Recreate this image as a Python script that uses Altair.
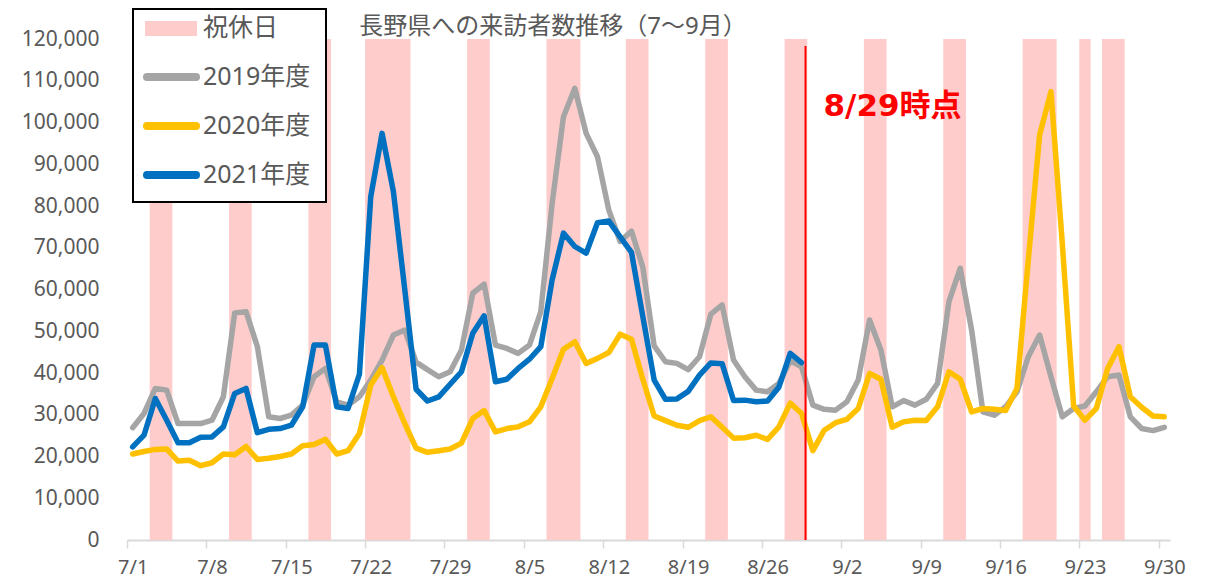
import datetime as dt
import altair as alt
import pandas as pd

# ---------------- data ----------------
START = dt.date(2021, 7, 1)
N_DAYS = 92  # 7/1 .. 9/30

series_names = ["2019年度", "2020年度", "2021年度"]
series_colors = ["#A5A5A5", "#FFC000", "#0070C0"]

v2019 = [26900, 30300, 36300, 35900, 27900, 27900, 27900, 28700, 34300, 54400,
         54700, 46300, 29500, 29100, 29900, 32300, 39100, 41100, 33100, 32300,
         34300, 38300, 43100, 49100, 50300, 42600, 40800, 39100, 40300, 45500,
         59100, 61300, 46700, 45900, 44700, 46700, 54700, 80600, 101400, 108200,
         97400, 91800, 79000, 71500, 74000, 65300, 46500, 42700, 42300, 40800,
         43900, 54100, 56300, 43100, 39100, 35900, 35500, 37500, 42900, 41500,
         32300, 31300, 31100, 33100, 38300, 52700, 45500, 31900, 33400, 32300,
         33700, 37500, 57100, 65100, 50300, 30700, 29900, 31900, 35500, 43900,
         49100, 39100, 29500, 31500, 32100, 35500, 39100, 39500, 29500, 26700,
         26200, 27000]

v2020 = [20600, 21200, 21700, 21800, 18900, 19100, 17800, 18500, 20600, 20400,
         22400, 19300, 19600, 20000, 20600, 22600, 22900, 24100, 20600, 21400,
         25500, 37100, 41300, 34300, 27900, 22000, 21000, 21400, 21800, 23200,
         29100, 31000, 25900, 26700, 27100, 28300, 31900, 38700, 45700, 47500,
         42300, 43500, 44900, 49300, 48100, 38500, 29700, 28600, 27500, 27000,
         28600, 29500, 27000, 24400, 24500, 25100, 24100, 27100, 32800, 30300,
         21400, 26300, 28100, 28900, 31500, 39900, 38500, 27000, 28300, 28700,
         28600, 31900, 40300, 38500, 30700, 31500, 31300, 31000, 36300, 67000,
         97000, 107400, 71000, 32100, 28700, 31500, 41100, 46300, 34300, 31800,
         29700, 29500]

v2021 = [22300, 25100, 33900, 28700, 23300, 23300, 24600, 24700, 27100, 35100,
         36300, 25700, 26500, 26700, 27500, 31900, 46700, 46700, 31900, 31500,
         39700, 82200, 97400, 83400, 60000, 36100, 33300, 34300, 37300, 40300,
         49500, 53700, 37900, 38500, 41100, 43300, 46300, 62300, 73500, 70300,
         68700, 76000, 76400, 72600, 68900, 53500, 38300, 33700, 33800, 35600,
         39500, 42400, 42200, 33400, 33500, 33100, 33300, 36600, 44700, 42500]

holidays = ["7/3", "7/4", "7/10", "7/11", "7/17", "7/18", "7/22", "7/23", "7/24",
            "7/25", "7/31", "8/1", "8/7", "8/8", "8/9", "8/14", "8/15", "8/21",
            "8/22", "8/28", "8/29", "9/4", "9/5", "9/11", "9/12", "9/18", "9/19",
            "9/20", "9/23", "9/25", "9/26"]

x_tick_labels = ["7/1", "7/8", "7/15", "7/22", "7/29", "8/5", "8/12", "8/19",
                 "8/26", "9/2", "9/9", "9/16", "9/23", "9/30"]
y_ticks = [0, 10000, 20000, 30000, 40000, 50000, 60000, 70000, 80000, 90000,
           100000, 110000, 120000]

cutoff = "8/29"
cutoff_text = "8/29時点"
legend_holiday = "祝休日"
title_text = "長野県への来訪者数推移（7～9月）"


def idx(md):
    m, d = map(int, md.split("/"))
    return (dt.date(START.year, m, d) - START).days


# ---------------- tables ----------------
rows = []
for name, vals in zip(series_names, [v2019, v2020, v2021]):
    for i, v in enumerate(vals):
        rows.append({"series": name, "pos": i + 0.5, "value": v})
df = pd.DataFrame(rows)

runs = []
for h in sorted(idx(h) for h in holidays):
    if runs and runs[-1][1] == h:
        runs[-1][1] = h + 1
    else:
        runs.append([h, h + 1])
band_df = pd.DataFrame(runs, columns=["start", "end"])
Y_MAX = y_ticks[-1]
band_df["lo"] = 0
band_df["hi"] = Y_MAX

red_df = pd.DataFrame({"pos": [idx(cutoff) + 0.85], "lo": [0], "hi": [118300],
                       "ty": [103800]})
one = pd.DataFrame({"a": [0]})

# ---------------- styling ----------------
W, H = 1043, 501
FONT = "Noto Sans, Noto Sans CJK JP, sans-serif"
TXT = "#595959"
PINK = "#FFCCCC"

x_scale = alt.Scale(domain=[0, N_DAYS], nice=False, zero=False)
y_scale = alt.Scale(domain=[0, Y_MAX], nice=False)

label_expr = " : ".join(
    f"datum.value == {idx(t)} ? '{t}'" for t in x_tick_labels) + " : ''"

x_axis = alt.Axis(values=[idx(t) for t in x_tick_labels], labelExpr=label_expr,
                  title=None, grid=False, tickSize=8, tickColor="#D9D9D9",
                  tickWidth=1.5, domainColor="#D9D9D9", domainWidth=2,
                  labelOffset=W / N_DAYS / 2, labelPadding=9, labelFlush=False,
                  labelOverlap=False, labelFont=FONT, labelFontSize=20,
                  labelColor=TXT, labelAngle=0)
y_axis = alt.Axis(values=y_ticks, format=",d", title=None, grid=False,
                  domain=False, ticks=False, tickSize=0, labelPadding=28,
                  labelFont=FONT, labelFontSize=21, labelColor=TXT)


def X(field):
    return alt.X(field, scale=x_scale, axis=x_axis, title=None)


def Y(field):
    return alt.Y(field, scale=y_scale, axis=y_axis, title=None)


# ---------------- layers ----------------
bands = alt.Chart(band_df).mark_rect(color=PINK).encode(
    x=X("start:Q"), x2="end:Q", y=Y("lo:Q"), y2="hi:Q")

lines = []
for name, color in zip(series_names, series_colors):
    lines.append(
        alt.Chart(df).transform_filter(alt.datum.series == name)
        .mark_line(color=color, strokeWidth=5.5, strokeJoin="round",
                   strokeCap="round")
        .encode(x=X("pos:Q"), y=Y("value:Q"))
    )

red_rule = alt.Chart(red_df).mark_rule(color="#FF0000", strokeWidth=2).encode(
    x=X("pos:Q"), y=Y("lo:Q"), y2="hi:Q")
red_text = alt.Chart(red_df).mark_text(
    align="left", baseline="middle", dx=18, fontSize=31, fontWeight="bold",
    font="DejaVu Sans, Noto Sans CJK JP, sans-serif", color="#FF0000",
).encode(x=X("pos:Q"), y=Y("ty:Q"), text=alt.value(cutoff_text))

title = alt.Chart(one).mark_text(
    align="center", baseline="middle", fontSize=24, font=FONT, color=TXT
).encode(x=alt.value(426), y=alt.value(-12), text=alt.value(title_text))

# legend
box = alt.Chart(one).mark_rect(fill="white", stroke="black", strokeWidth=2).encode(
    x=alt.value(6), x2=alt.value(199), y=alt.value(-30), y2=alt.value(163))
legend_layers = [box]
ROW0, STEP = -11, 49
legend_layers.append(
    alt.Chart(one).mark_rect(color=PINK).encode(
        x=alt.value(18), x2=alt.value(70), y=alt.value(ROW0 - 7),
        y2=alt.value(ROW0 + 8)))
legend_layers.append(
    alt.Chart(one).mark_text(align="left", baseline="middle", fontSize=25,
                             font=FONT, color=TXT)
    .encode(x=alt.value(76), y=alt.value(ROW0), text=alt.value(legend_holiday)))
for k, (name, color) in enumerate(zip(series_names, series_colors)):
    ry = ROW0 + STEP * (k + 1)
    legend_layers.append(
        alt.Chart(one).mark_rule(color=color, strokeWidth=8, strokeCap="round")
        .encode(x=alt.value(20), x2=alt.value(69), y=alt.value(ry)))
    legend_layers.append(
        alt.Chart(one).mark_text(align="left", baseline="middle", fontSize=25,
                                 font=FONT, color=TXT)
        .encode(x=alt.value(76), y=alt.value(ry), text=alt.value(name)))

chart = alt.layer(
    bands, *lines, red_rule, red_text, title, *legend_layers
).properties(
    width=W, height=H, autosize="none",
    padding={"left": 119, "top": 31, "right": 20, "bottom": 44},
).configure_view(stroke=None)

chart.save("out.html", embed_options={"renderer": "svg", "actions": False})
